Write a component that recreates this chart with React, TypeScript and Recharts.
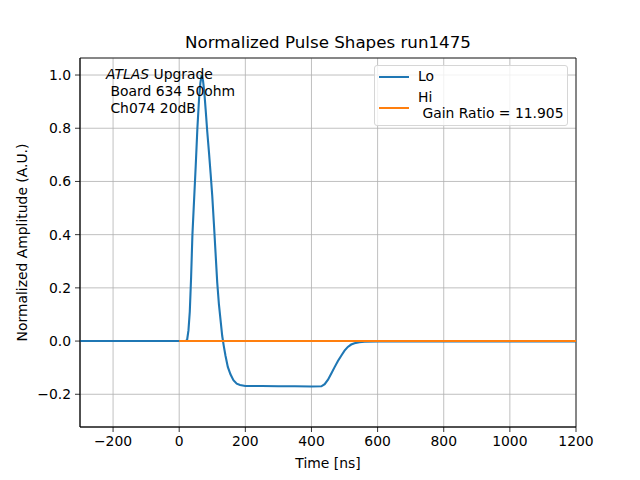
import React from "react";
import {
  LineChart,
  Line,
  XAxis,
  YAxis,
  CartesianGrid,
  ReferenceArea,
  Label,
} from "recharts";

// time axis in ns (dense where the pulse moves)
const times = [
  -300, -200, -100, 0, 20, 24, 28, 32, 36, 40, 45, 50, 55, 60, 64, 68, 72, 76,
  80, 85, 90, 95, 100, 105, 110, 115, 120, 125, 130, 135, 140, 147, 155, 164,
  174, 184, 200, 250, 300, 350, 400, 430, 440, 450, 460, 470, 480, 490, 500,
  510, 520, 530, 545, 560, 600, 800, 1000, 1200,
];

// "Lo" normalized amplitude
const loValues = [
  0, 0, 0, 0, 0, 0.005, 0.04, 0.11, 0.24, 0.4, 0.53, 0.66, 0.8, 0.91, 0.97,
  1.0, 0.98, 0.935, 0.87, 0.785, 0.71, 0.63, 0.545, 0.44, 0.33, 0.22, 0.14,
  0.08, 0.02, -0.02, -0.055, -0.097, -0.125, -0.147, -0.16, -0.165, -0.169,
  -0.169, -0.17, -0.17, -0.171, -0.17, -0.162, -0.145, -0.122, -0.098, -0.075,
  -0.055, -0.036, -0.022, -0.013, -0.008, -0.004, -0.002, -0.001, -0.001,
  -0.001, -0.001,
];

// "Hi" normalized amplitude (only recorded from t = 0)
const hiValues = times.map((t) => (t < 0 ? null : 0));

const xTicks = [-200, 0, 200, 400, 600, 800, 1000, 1200];
const yTicks = [-0.2, 0, 0.2, 0.4, 0.6, 0.8, 1.0];
const xDomain = [-300, 1200];
const yDomain = [-0.323, 1.064];

const data = times.map((t, i) => ({ t, lo: loValues[i], hi: hiValues[i] }));

const FONT = "DejaVu Sans, sans-serif";
const BLUE = "#1f77b4";
const ORANGE = "#ff7f0e";

const minus = (s: string) => s.replace("-", "\u2212");

export default function App() {
  return (
    <div
      style={{
        position: "absolute",
        left: 0,
        top: 0,
        width: 640,
        height: 480,
        background: "#fff",
        fontFamily: FONT,
      }}
    >
      <LineChart
        width={640}
        height={480}
        data={data}
        margin={{ top: 58, right: 64, left: 0, bottom: 0 }}
      >
        <CartesianGrid stroke="#b0b0b0" strokeWidth={0.8} />
        <XAxis
          dataKey="t"
          type="number"
          domain={xDomain}
          ticks={xTicks}
          allowDataOverflow
          height={53}
          tickSize={5}
          tickMargin={4}
          axisLine={{ stroke: "#000", strokeWidth: 0.8 }}
          tickLine={{ stroke: "#000", strokeWidth: 0.8 }}
          tick={{ fill: "#000", fontSize: 13.9, fontFamily: FONT }}
          tickFormatter={(v: number) => minus(String(v))}
        >
          <Label
            content={({ viewBox }: any) => (
              <text
                x={viewBox.x + viewBox.width / 2}
                y={viewBox.y + 41}
                textAnchor="middle"
                fontSize={13.9}
                fontFamily={FONT}
                fill="#000"
              >
                Time [ns]
              </text>
            )}
          />
        </XAxis>
        <YAxis
          type="number"
          domain={yDomain}
          ticks={yTicks}
          allowDataOverflow
          width={80}
          tickSize={5}
          tickMargin={4}
          axisLine={{ stroke: "#000", strokeWidth: 0.8 }}
          tickLine={{ stroke: "#000", strokeWidth: 0.8 }}
          tick={{ fill: "#000", fontSize: 13.9, fontFamily: FONT }}
          tickFormatter={(v: number) => minus(v.toFixed(1))}
        >
          <Label
            content={({ viewBox }: any) => {
              const cx = 27;
              const cy = viewBox.y + viewBox.height / 2;
              return (
                <text
                  x={cx}
                  y={cy}
                  transform={`rotate(-90 ${cx} ${cy})`}
                  textAnchor="middle"
                  fontSize={13.9}
                  fontFamily={FONT}
                  fill="#000"
                >
                  Normalized Amplitude (A.U.)
                </text>
              );
            }}
          />
        </YAxis>
        <Line
          dataKey="lo"
          type="linear"
          stroke={BLUE}
          strokeWidth={2.1}
          dot={false}
          isAnimationActive={false}
        />
        <Line
          dataKey="hi"
          type="linear"
          stroke={ORANGE}
          strokeWidth={2.1}
          dot={false}
          isAnimationActive={false}
        />
        <ReferenceArea
          x1={xDomain[0]}
          x2={xDomain[1]}
          y1={yDomain[0]}
          y2={yDomain[1]}
          fill="none"
          fillOpacity={0}
          stroke="#000"
          strokeWidth={0.8}
        />
      </LineChart>

      {/* title */}
      <div
        style={{
          position: "absolute",
          left: 80,
          width: 496,
          top: 32,
          textAlign: "center",
          fontSize: 16.7,
          lineHeight: "20px",
        }}
      >
        Normalized Pulse Shapes run1475
      </div>

      {/* annotation */}
      <div
        style={{
          position: "absolute",
          left: 106,
          top: 66,
          fontSize: 13.9,
          lineHeight: "17px",
          whiteSpace: "pre",
        }}
      >
        <div>
          <i>ATLAS</i> Upgrade
        </div>
        <div> Board 634 50ohm</div>
        <div> Ch074 20dB</div>
      </div>

      {/* legend */}
      <div
        style={{
          position: "absolute",
          left: 374,
          top: 65,
          width: 194,
          height: 61,
          border: "1px solid #d6d6d6",
          borderRadius: 3,
          background: "rgba(255,255,255,0.8)",
          fontSize: 13.9,
          boxSizing: "border-box",
        }}
      >
        <div
          style={{
            position: "absolute",
            left: 4,
            top: 10,
            width: 30,
            height: 2,
            background: BLUE,
          }}
        />
        <div style={{ position: "absolute", left: 43, top: 2, lineHeight: "17px" }}>
          Lo
        </div>
        <div
          style={{
            position: "absolute",
            left: 4,
            top: 41,
            width: 30,
            height: 2,
            background: ORANGE,
          }}
        />
        <div
          style={{
            position: "absolute",
            left: 43,
            top: 23,
            lineHeight: "16px",
            whiteSpace: "pre",
          }}
        >
          <div>Hi</div>
          <div> Gain Ratio = 11.905</div>
        </div>
      </div>
    </div>
  );
}
